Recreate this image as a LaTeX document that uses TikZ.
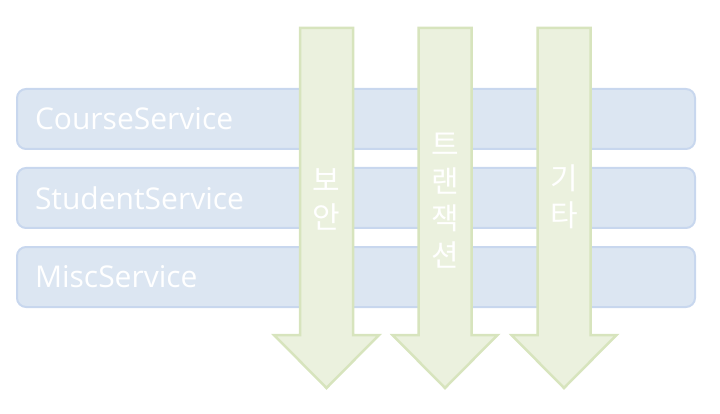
\documentclass[tikz,border=0pt]{standalone}
\usepackage{fontspec}
\setmainfont{Open Sans}
\newfontfamily\cjk{Noto Sans CJK KR}
\usetikzlibrary{positioning}
\definecolor{barfill}{HTML}{DCE6F2}
\definecolor{barline}{HTML}{C8D7EE}
\definecolor{arrowfill}{HTML}{EBF1DE}
\definecolor{arrowline}{HTML}{D7E4BD}
\tikzstyle{service} = [draw=barline, fill=barfill, line width=2pt,
    rounded corners=9pt, minimum height=60pt, text width=642pt,
    inner xsep=18pt, align=left, text=white,
    font=\fontsize{30}{35}\selectfont]
\tikzstyle{aspect} = [draw=arrowline, fill=arrowfill, line width=2.5pt]
\tikzstyle{label} = [text=white, align=center,
    font=\cjk\fontsize{30}{37}\selectfont]

\begin{document}
\begin{tikzpicture}[x=1pt, y=-1pt, node distance=17pt]
    \useasboundingbox (0,0) rectangle (720,414);
    % We start by placing the service bars
    \node [service] (course) at (356,119) {CourseService};
    \node [service, below=of course] (student) {StudentService};
    \node [service, below=of student] (misc) {MiscService};

    % The cross-cutting arrows go on top of the bars
    \foreach \cx in {326.5, 445, 564} {
        \draw [aspect] (\cx-26.5,28) -- ++(53,0) -- ++(0,307) -- ++(26,0)
            -- (\cx,388) -- (\cx-52.5,335) -- ++(26,0) -- cycle;
    }

    % Labels stacked one syllable per line
    \node [label] (security) at (326.5,199) {보\\안};
    \node [label] (transaction) at (445,201) {트\\랜\\잭\\션};
    \node [label] (others) at (564,197) {기\\타};
\end{tikzpicture}
\end{document}
